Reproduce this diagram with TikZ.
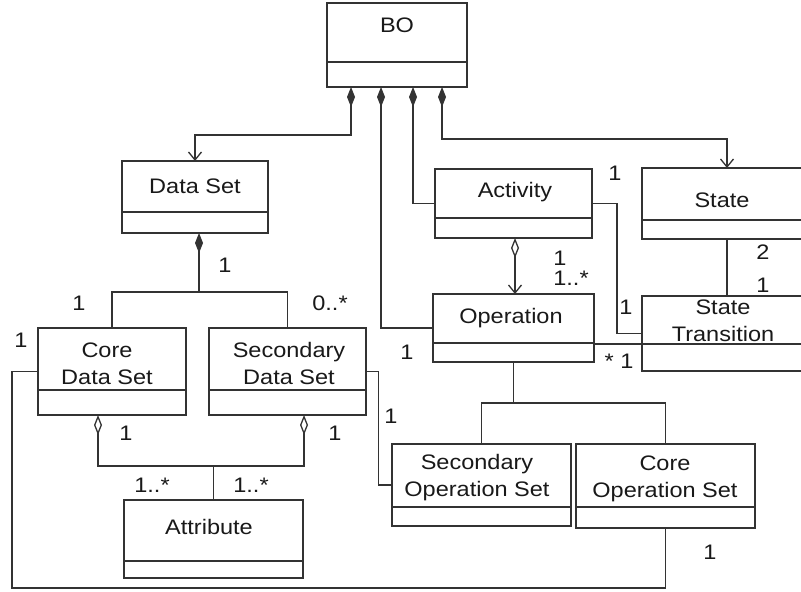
\documentclass[tikz,border=0pt]{standalone}
\usepackage{fontspec}
\setmainfont{Liberation Sans}[FakeStretch=1.12]
\usetikzlibrary{arrows.meta,fit,calc}
\newcommand\umlclass[9]{% name, x1, y1, x2, y2, ydiv, tx, ty, text
  \node[clsbox, fit={(#2,#3) (#4,#5)}] (#1) {};
  \draw[conn] (#2,#6) -- (#4,#6);
  \node[clstext] (#1-t) at (#7,#8) {#9};
}
\begin{document}
\begin{tikzpicture}[x=1pt,y=-1pt,
  conn/.style={line width=1.3pt, draw=black!80},
  clsbox/.style={draw=black!80, line width=1.3pt, inner sep=0pt, outer sep=0pt},
  clstext/.style={font=\fontsize{21}{27}\selectfont, align=center, inner sep=0pt, text=black!90},
  lbl/.style={font=\fontsize{21}{27}\selectfont, inner sep=0pt, text=black!90},
  comp/.style={conn, {Diamond[length=20pt,width=8pt]}-},
  compnav/.style={conn, {Diamond[length=20pt,width=8pt]}-{Straight Barb[length=8pt,width=13pt]}},
  aggr/.style={conn, {Diamond[open,length=20pt,width=8pt,fill=white]}-},
  aggrnav/.style={conn, {Diamond[open,length=20pt,width=8pt,fill=white]}-{Straight Barb[length=8pt,width=13pt]}}
]
\useasboundingbox (0,0) rectangle (801,592);
\fill[white] (0,0) rectangle (801,592);
\clip (0,0) rectangle (801,592);

% classes
\umlclass{BO}{327}{3}{467}{87}{62}{397}{25}{BO}
\umlclass{DS}{122}{161}{268}{233}{212}{195}{186}{Data Set}
\umlclass{Act}{435}{169}{592}{238}{218}{515}{192}{Activity}
\umlclass{State}{642}{168}{812}{239}{220}{722}{200}{State}
\umlclass{Op}{433}{294}{594}{362}{343}{511}{318}{Operation}
\umlclass{ST}{642}{296}{812}{371}{344}{723}{321}{State\\Transition}
\umlclass{CDS}{38}{328}{186}{415}{390}{107}{364}{Core\\Data Set}
\umlclass{SDS}{209}{328}{366}{415}{390}{289}{363}{Secondary\\Data Set}
\umlclass{Attr}{124}{500}{303}{578}{561}{209}{527}{Attribute}
\umlclass{SOS}{392}{444}{571}{526}{507}{477}{478}{Secondary\\Operation Set}
\umlclass{COS}{576}{444}{755}{528}{507}{665}{479}{Core\\Operation Set}

% junction points
\coordinate (j1) at (195,135);
\coordinate (j2) at (727,139);
\coordinate (j3) at (617,300);
\coordinate (j5) at (513.5,403);
\coordinate (j6) at (199,292);
\coordinate (j7) at (213.5,466);
\coordinate (j8) at (12,588);
\coordinate (j9) at (378.5,420);

% connectors from BO
\draw[compnav] ([xshift=24pt]BO.south west) |- (j1) -- (DS.north);
\draw[comp] ([xshift=54pt]BO.south west) |- (Op.west);
\draw[comp] ([xshift=86pt]BO.south west) |- (Act.west);
\draw[compnav] ([xshift=115pt]BO.south west) |- (j2) -- (State.north);

% activity / operation / state
\draw[aggrnav] ([xshift=80pt]Act.south west) -- ([xshift=82pt]Op.north west);
\draw[conn] (Act.east) -| (j3) |- (ST.west);
\draw[conn] (State.south) -- (ST.north);
\draw[conn] ([yshift=-16pt]Op.east) -- ([yshift=-10.5pt]ST.west);
\draw[conn] (Op.south) -- (j5);
\draw[conn] (SOS.north) |- (j5) -| (COS.north);

% data sets
\draw[comp] ([xshift=77pt]DS.south west) -- (j6);
\draw[conn] (CDS.north) |- (j6) -| (SDS.north);
\draw[aggr] ([xshift=60pt]CDS.south west) |- (j7);
\draw[aggr] ([xshift=95pt]SDS.south west) |- (j7);
\draw[conn] (j7) -- (Attr.north);
\draw[conn] (COS.south) |- (j8) |- (CDS.west);
\draw[conn] (SDS.east) -| (j9) |- (SOS.west);

% multiplicities
\node[lbl] (m1) at (615,173) {1};
\node[lbl] (m2) at (560,258) {1};
\node[lbl] (m3) at (571,278) {1..*};
\node[lbl] (m4) at (763,252) {2};
\node[lbl] (m5) at (763,285) {1};
\node[lbl] (m6) at (626,307) {1};
\node[lbl] (m7) at (407,352) {1};
\node[lbl] (m8) at (619,361) {* 1};
\node[lbl] (m9) at (225,265) {1};
\node[lbl] (m10) at (79,303) {1};
\node[lbl] (m11) at (330,303) {0..*};
\node[lbl] (m12) at (21,340) {1};
\node[lbl] (m13) at (126,433) {1};
\node[lbl] (m14) at (335,433) {1};
\node[lbl] (m15) at (152,485) {1..*};
\node[lbl] (m16) at (251,485) {1..*};
\node[lbl] (m17) at (391,416) {1};
\node[lbl] (m18) at (710,552) {1};
\end{tikzpicture}
\end{document}
